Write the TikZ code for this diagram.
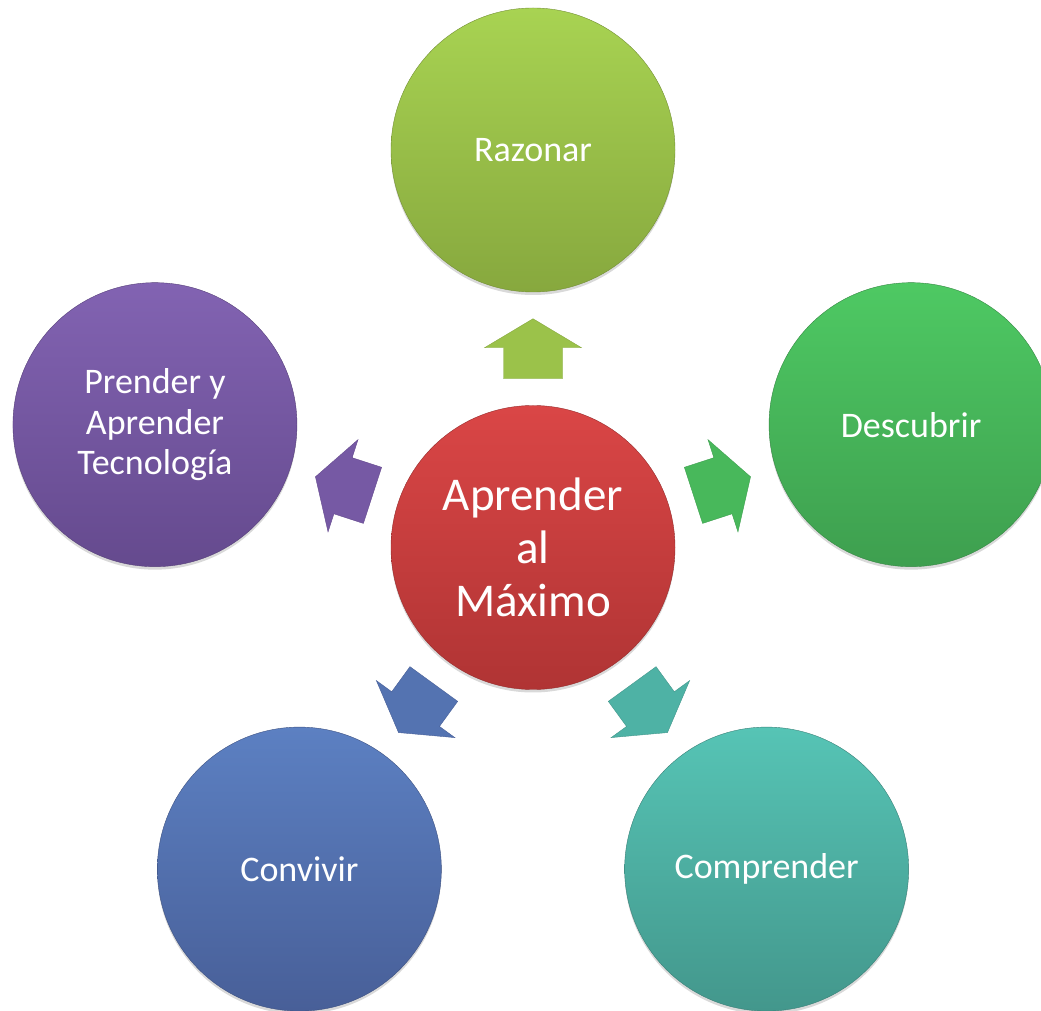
\documentclass[tikz,border=0pt]{standalone}
\usepackage{fontspec}
\setmainfont{Carlito}
\usetikzlibrary{calc,shadows}

\definecolor{rojoA}{HTML}{DA4646}
\definecolor{rojoB}{HTML}{B03434}
\definecolor{olivaA}{HTML}{A8D352}
\definecolor{olivaB}{HTML}{87A83E}
\definecolor{verdeA}{HTML}{4EC963}
\definecolor{verdeB}{HTML}{3E9F4F}
\definecolor{tealA}{HTML}{56C4B5}
\definecolor{tealB}{HTML}{43978C}
\definecolor{azulA}{HTML}{5C80C2}
\definecolor{azulB}{HTML}{485F98}
\definecolor{moradoA}{HTML}{8263B2}
\definecolor{moradoB}{HTML}{654A8E}

\begin{document}
\begin{tikzpicture}[x=1pt,y=1pt,
    circulo/.style={circle, minimum size=284pt, inner sep=0pt, align=center,
      text=white, font=\fontsize{36}{40.5}\selectfont,
      drop shadow={shadow xshift=0pt, shadow yshift=-3pt, opacity=.3}},
    flecha/.pic={\path[pic actions] (30,0) -- (1,48.5) -- (1,29.5) -- (-30,29.5)
      -- (-30,-29.5) -- (1,-29.5) -- (1,-48.5) -- cycle;}]
  \useasboundingbox (0,0) rectangle (1041,1010);
  \clip (0,0) rectangle (1041,1010);
  % centro
  \node[circulo, top color=rojoA, bottom color=rojoB, draw=rojoB!85!black,
    font=\fontsize{47}{53}\selectfont] (ctr) at (533,462.5) {Aprender\\al\\Máximo};
  % alrededor
  \node[circulo, top color=olivaA, bottom color=olivaB, draw=olivaB!85!black]
    (raz) at ($(ctr)+(90:397.5pt)$) {Razonar};
  \node[circulo, top color=verdeA, bottom color=verdeB, draw=verdeB!85!black]
    (des) at ($(ctr)+(18:397.5pt)$) {Descubrir};
  \node[circulo, top color=tealA, bottom color=tealB, draw=tealB!85!black]
    (com) at ($(ctr)+(-54:397.5pt)$) {Comprender};
  \node[circulo, top color=azulA, bottom color=azulB, draw=azulB!85!black]
    (con) at ($(ctr)+(-126:397.5pt)$) {Convivir};
  \node[circulo, top color=moradoA, bottom color=moradoB, draw=moradoB!85!black]
    (pre) at ($(ctr)+(162:397.5pt)$) {Prender y\\Aprender\\Tecnología};
  % flechas
  \pic[rotate=90, fill=olivaA!60!olivaB, draw=olivaB] at ($(ctr)!.5!(raz)$) {flecha};
  \pic[rotate=18, fill=verdeA!60!verdeB, draw=verdeB] at ($(ctr)!.5!(des)$) {flecha};
  \pic[rotate=-54, fill=tealA!60!tealB, draw=tealB] at ($(ctr)!.5!(com)$) {flecha};
  \pic[rotate=-126, fill=azulA!60!azulB, draw=azulB] at ($(ctr)!.5!(con)$) {flecha};
  \pic[rotate=162, fill=moradoA!60!moradoB, draw=moradoB] at ($(ctr)!.5!(pre)$) {flecha};
\end{tikzpicture}
\end{document}
